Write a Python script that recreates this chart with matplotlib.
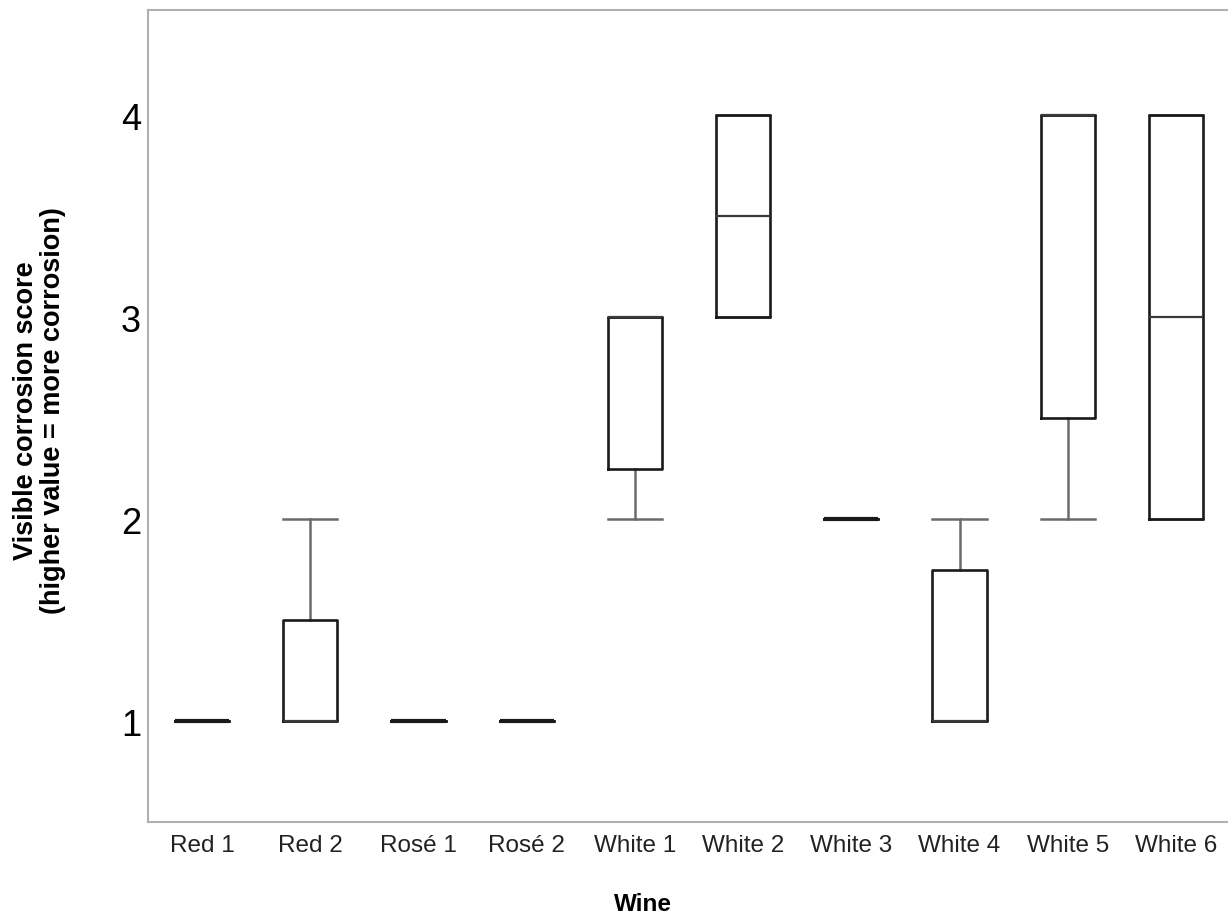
import matplotlib
matplotlib.use("Agg")
import matplotlib.pyplot as plt

plt.rcParams['font.family'] = ['Liberation Sans', 'DejaVu Sans']

# Box summary per wine (scores 1-4)
wines = ["Red 1", "Red 2", "Rosé 1", "Rosé 2", "White 1",
         "White 2", "White 3", "White 4", "White 5", "White 6"]
q1 = [1, 1, 1, 1, 2.25, 3, 2, 1, 2.5, 2]
median = [1, 1, 1, 1, 3, 3.5, 2, 1, 4, 3]
q3 = [1, 1.5, 1, 1, 3, 4, 2, 1.75, 4, 4]
whisker_lo = [1, 1, 1, 1, 2, 3, 2, 1, 2, 2]
whisker_hi = [1, 2, 1, 1, 3, 4, 2, 2, 4, 4]
y_ticks = [1, 2, 3, 4]

stats = []
for i, name in enumerate(wines):
    stats.append({
        "label": name,
        "q1": q1[i], "med": median[i], "q3": q3[i],
        "whislo": whisker_lo[i], "whishi": whisker_hi[i],
        "fliers": [],
    })

fig = plt.figure(figsize=(12.28, 9.2), dpi=100)
ax = fig.add_axes([148 / 1228, 97 / 920, 1082 / 1228, 812 / 920])

positions = list(range(1, len(wines) + 1))
ax.bxp(stats, positions=positions, widths=0.5, capwidths=0.5,
       showfliers=False,
       boxprops=dict(color="#1a1a1a", linewidth=1.9, zorder=3),
       whiskerprops=dict(color="#6a6a6a", linewidth=1.8, zorder=2),
       capprops=dict(color="#6a6a6a", linewidth=1.8, zorder=2),
       medianprops=dict(color="#3a3a3a", linewidth=1.6, zorder=3))

# single-value wines show as a heavier flat bar
for i in range(len(wines)):
    if q1[i] == q3[i] == whisker_lo[i] == whisker_hi[i]:
        ax.hlines(median[i], positions[i] - 0.25, positions[i] + 0.25,
                  color="#1a1a1a", linewidth=3.0, zorder=4)

ax.set_xlim(0.5, 10.5)
ax.set_ylim(0.5, 4.52)
ax.set_yticks(y_ticks)
ax.set_yticklabels([str(v) for v in y_ticks], fontsize=26)
ax.set_xticks(positions)
ax.set_xticklabels(wines, fontsize=17.5, color="#222222")
ax.tick_params(axis="y", length=0, pad=5)
ax.tick_params(axis="x", length=0, pad=9)

for side in ["left", "top", "bottom", "right"]:
    ax.spines[side].set_color("#b0b0b0")
    ax.spines[side].set_linewidth(1.5)

fig.text(40 / 1228, 1 - 411 / 920,
         "Visible corrosion score\n(higher value = more corrosion)",
         rotation=90, ha="center", va="center", multialignment="center",
         fontsize=19.5, fontweight="bold", linespacing=1.05)
fig.text(643 / 1228, 1 - 905 / 920, "Wine", ha="center", va="center",
         fontsize=17.5, fontweight="bold")

fig.savefig("out.png", dpi=100)
